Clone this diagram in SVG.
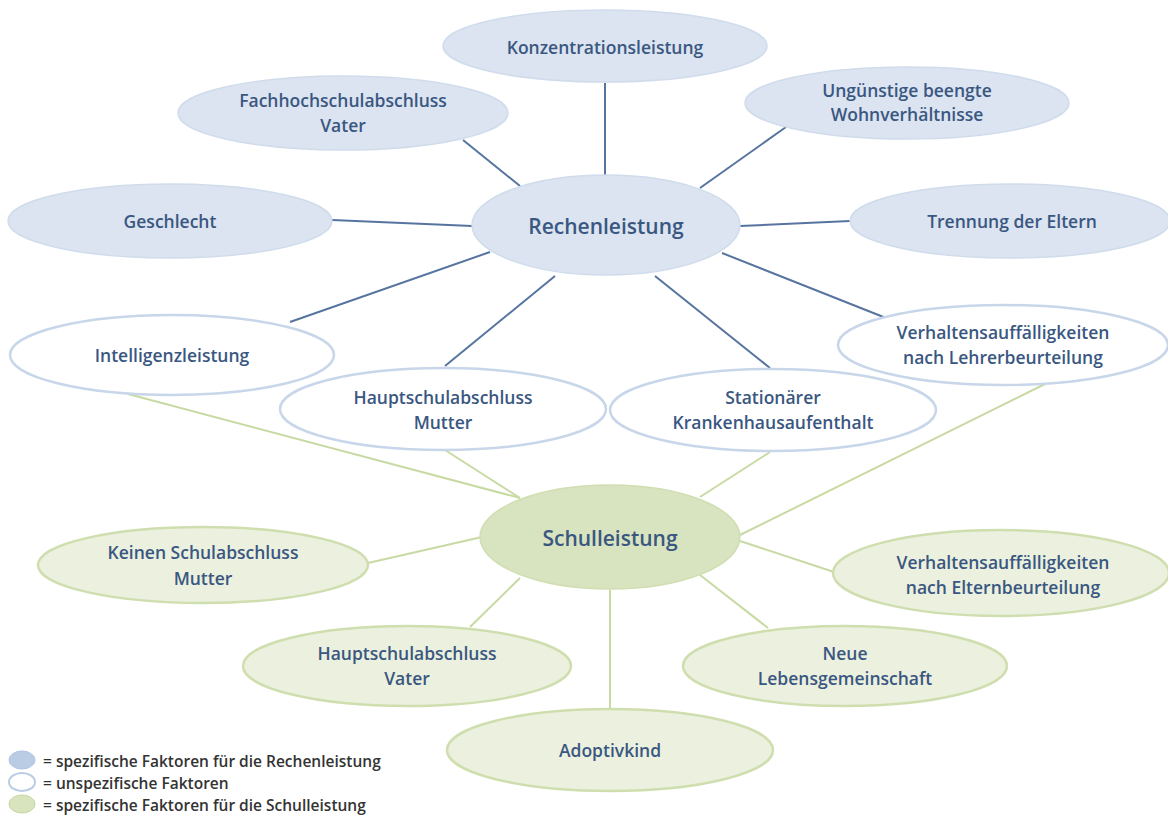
<svg xmlns="http://www.w3.org/2000/svg" width="1168" height="816" viewBox="0 0 1168 816">
<style>
text{font-family:"Open Sans","Liberation Sans",sans-serif;fill:#3a5781;text-anchor:middle;dominant-baseline:central;font-weight:600}
.t{font-size:17.5px}
.big{font-size:21px}
.leg{font-size:15.5px;text-anchor:start;fill:#333333}
.blue{fill:#dbe4f0;stroke:#d0dcec;stroke-width:1.5}
.white{fill:#ffffff;stroke:#c8d6ea;stroke-width:2.5}
.green{fill:#ebf1de;stroke:#cfdeae;stroke-width:2.5}
.gmain{fill:#d8e4bf;stroke:#d0deb2;stroke-width:1.5}
.bl{stroke:#56749f;stroke-width:2;fill:none}
.gl{stroke:#c8daa3;stroke-width:2;fill:none}
</style>
<rect width="1168" height="816" fill="#ffffff"/>
<g id="connectors">
<line class="bl" x1="605" y1="83" x2="605" y2="175"/>
<line class="bl" x1="463" y1="140" x2="520" y2="186"/>
<line class="bl" x1="332" y1="220" x2="472" y2="226"/>
<line class="bl" x1="786" y1="127" x2="700" y2="188"/>
<line class="bl" x1="850" y1="221" x2="740" y2="226"/>
<line class="bl" x1="290" y1="322" x2="490" y2="252"/>
<line class="bl" x1="445" y1="366" x2="555" y2="276"/>
<line class="bl" x1="770" y1="368" x2="655" y2="276"/>
<line class="bl" x1="886" y1="318" x2="722" y2="253"/>
<line class="gl" x1="128" y1="394" x2="520" y2="498"/>
<line class="gl" x1="445" y1="450" x2="520" y2="498"/>
<line class="gl" x1="770" y1="452" x2="700" y2="497"/>
<line class="gl" x1="1045" y1="384" x2="740" y2="535"/>
<line class="gl" x1="368" y1="563" x2="482" y2="537"/>
<line class="gl" x1="834" y1="572" x2="740" y2="541"/>
<line class="gl" x1="470" y1="627" x2="520" y2="578"/>
<line class="gl" x1="768" y1="628" x2="700" y2="575"/>
<line class="gl" x1="610" y1="709" x2="610" y2="590"/>
</g>
<g id="n-konzentration"><ellipse class="blue" cx="605" cy="46" rx="162" ry="36"/><text class="t" x="605" y="47">Konzentrationsleistung</text></g>
<g id="n-fachhochschul"><ellipse class="blue" cx="343" cy="113" rx="165" ry="37"/><text class="t" x="343" y="100">Fachhochschulabschluss</text><text class="t" x="343" y="125">Vater</text></g>
<g id="n-geschlecht"><ellipse class="blue" cx="170" cy="221" rx="162" ry="37"/><text class="t" x="170" y="221">Geschlecht</text></g>
<g id="n-wohn"><ellipse class="blue" cx="907" cy="103" rx="162" ry="36"/><text class="t" x="907" y="90">Ungünstige beengte</text><text class="t" x="907" y="114">Wohnverhältnisse</text></g>
<g id="n-trennung"><ellipse class="blue" cx="1010" cy="221" rx="160" ry="37"/><text class="t" x="1012" y="221">Trennung der Eltern</text></g>
<g id="n-rechen"><ellipse class="blue" cx="606" cy="225" rx="134" ry="50"/><text class="big" x="606" y="226">Rechenleistung</text></g>
<g id="n-intelligenz"><ellipse class="white" cx="172" cy="355" rx="162" ry="40"/><text class="t" x="172" y="355">Intelligenzleistung</text></g>
<g id="n-hauptmutter"><ellipse class="white" cx="443" cy="409" rx="163" ry="41"/><text class="t" x="443" y="397">Hauptschulabschluss</text><text class="t" x="443" y="422">Mutter</text></g>
<g id="n-stationaer"><ellipse class="white" cx="773" cy="410" rx="163" ry="41"/><text class="t" x="773" y="397">Stationärer</text><text class="t" x="773" y="422">Krankenhausaufenthalt</text></g>
<g id="n-lehrer"><ellipse class="white" cx="1003" cy="345" rx="165" ry="40"/><text class="t" x="1003" y="332">Verhaltensauffälligkeiten</text><text class="t" x="1003" y="357">nach Lehrerbeurteilung</text></g>
<g id="n-schul"><ellipse class="gmain" cx="610" cy="537" rx="130" ry="52"/><text class="big" x="610" y="538">Schulleistung</text></g>
<g id="n-keinen"><ellipse class="green" cx="203" cy="565" rx="165" ry="38"/><text class="t" x="203" y="552">Keinen Schulabschluss</text><text class="t" x="203" y="578">Mutter</text></g>
<g id="n-eltern"><ellipse class="green" cx="1001" cy="573" rx="168" ry="43"/><text class="t" x="1003" y="562">Verhaltensauffälligkeiten</text><text class="t" x="1003" y="587">nach Elternbeurteilung</text></g>
<g id="n-hauptvater"><ellipse class="green" cx="407" cy="666" rx="164" ry="40"/><text class="t" x="407" y="653">Hauptschulabschluss</text><text class="t" x="407" y="678">Vater</text></g>
<g id="n-neue"><ellipse class="green" cx="845" cy="666" rx="162" ry="40"/><text class="t" x="845" y="653">Neue</text><text class="t" x="845" y="678">Lebensgemeinschaft</text></g>
<g id="n-adoptiv"><ellipse class="green" cx="610" cy="750" rx="163" ry="41"/><text class="t" x="610" y="750">Adoptivkind</text></g>
<g id="legend">
<ellipse cx="22" cy="760" rx="13" ry="9" fill="#b9cce4" stroke="#aec3df" stroke-width="1"/>
<ellipse cx="22" cy="782" rx="13" ry="9" fill="#ffffff" stroke="#b9cce4" stroke-width="2"/>
<ellipse cx="22" cy="804" rx="13" ry="9" fill="#d7e4bd" stroke="#c3d69b" stroke-width="1"/>
<text class="leg" x="43" y="761">= spezifische Faktoren für die Rechenleistung</text>
<text class="leg" x="43" y="783">= unspezifische Faktoren</text>
<text class="leg" x="43" y="805">= spezifische Faktoren für die Schulleistung</text>
</g>
</svg>
